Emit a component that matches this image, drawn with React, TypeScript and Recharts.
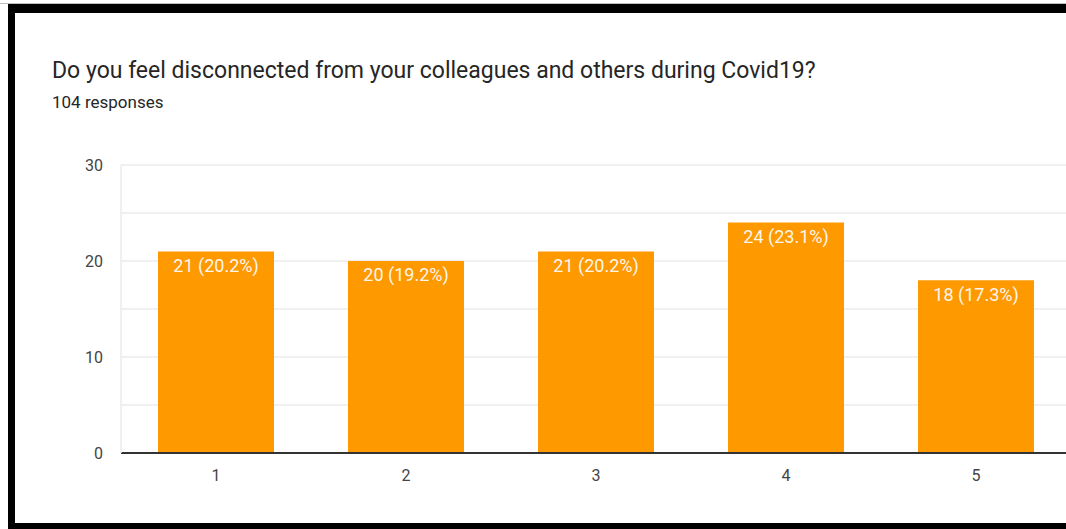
import React from 'react';
import { BarChart, Bar, XAxis, YAxis, CartesianGrid, LabelList } from 'recharts';

const categories = ['1', '2', '3', '4', '5'];
const counts = [21, 20, 21, 24, 18];
const percents = ['20.2%', '19.2%', '20.2%', '23.1%', '17.3%'];
const yTicks = [0, 10, 20, 30];
const gridValues = [0, 5, 10, 15, 20, 25, 30];

const data = categories.map((c, i) => ({ name: c, count: counts[i], pct: percents[i] }));

const FONT = 'Roboto, "Noto Sans", Arial, sans-serif';

const App: React.FC = () => {
    return (
        <div
            style={{
                position: 'absolute',
                top: 0,
                left: 0,
                width: 1066,
                height: 529,
                overflow: 'hidden',
                background: '#ffffff',
                fontFamily: FONT,
            }}
        >
            {/* frame bits from the screenshot */}
            <div style={{ position: 'absolute', left: 0, top: 3, width: 1066, height: 1, background: '#bdbdbd' }} />
            <div style={{ position: 'absolute', left: 8, top: 4, width: 1058, height: 9, background: '#000' }} />
            <div style={{ position: 'absolute', left: 8, top: 4, width: 7, height: 525, background: '#000' }} />
            <div style={{ position: 'absolute', left: 8, top: 523, width: 1058, height: 6, background: '#000' }} />

            <div style={{ position: 'absolute', left: 52, top: 57, fontSize: 23, color: '#262626', whiteSpace: 'nowrap' }}>
                Do you feel disconnected from your colleagues and others during Covid19?
            </div>
            <div style={{ position: 'absolute', left: 52, top: 92, fontSize: 17, color: '#262626' }}>
                104 responses
            </div>

            <div style={{ position: 'absolute', left: 0, top: 0 }}>
                <BarChart
                    width={1080}
                    height={529}
                    data={data}
                    margin={{ top: 165, right: 9, left: 61, bottom: 46 }}
                    barCategoryGap={37}
                >
                    <CartesianGrid
                        vertical={false}
                        horizontalValues={gridValues}
                        stroke="#ebebeb"
                        strokeWidth={1.5}
                    />
                    <XAxis
                        dataKey="name"
                        height={30}
                        tickLine={false}
                        tickSize={0}
                        tickMargin={17}
                        axisLine={{ stroke: '#333333', strokeWidth: 2 }}
                        tick={{ fill: '#444444', fontSize: 16, fontFamily: FONT }}
                    />
                    <YAxis
                        width={60}
                        domain={[0, 30]}
                        ticks={yTicks}
                        tickLine={false}
                        tickSize={0}
                        tickMargin={18}
                        axisLine={{ stroke: '#ebebeb', strokeWidth: 1.5 }}
                        tick={{ fill: '#444444', fontSize: 16, fontFamily: FONT }}
                    />
                    <Bar dataKey="count" fill="#ff9900" isAnimationActive={false}>
                        <LabelList
                            dataKey="count"
                            content={(props: any) => {
                                const { x, y, width, index } = props;
                                return (
                                    <text
                                        x={x + width / 2}
                                        y={y + 6}
                                        dy="0.8em"
                                        textAnchor="middle"
                                        fill="#fdf6ec"
                                        fontSize={18}
                                        fontFamily={FONT}
                                    >
                                        {`${counts[index]} (${percents[index]})`}
                                    </text>
                                );
                            }}
                        />
                    </Bar>
                </BarChart>
            </div>
        </div>
    );
};

export default App;
